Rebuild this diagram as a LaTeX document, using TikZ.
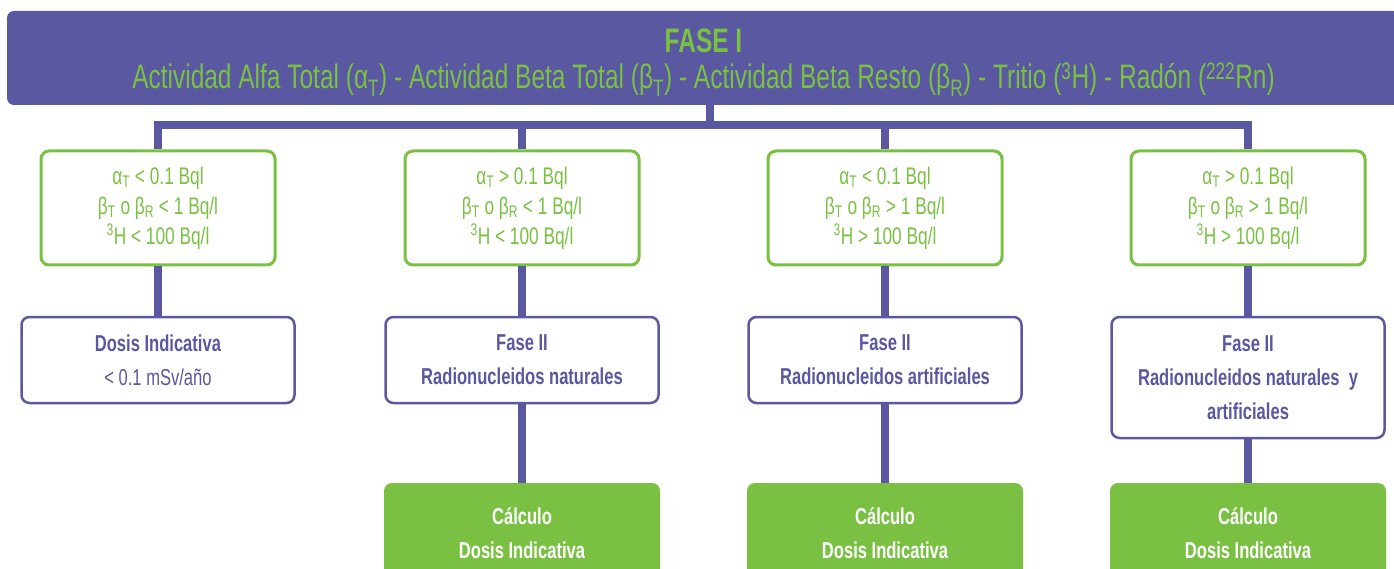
\documentclass[tikz,border=0pt]{standalone}
\usepackage{fontspec}
\setmainfont{Liberation Sans}[FakeStretch=0.72]
\definecolor{pur}{HTML}{5A58A0}
\definecolor{grn}{HTML}{7AC143}
\tikzset{
  link/.style={draw=pur,line width=8pt},
  condbox/.style={draw=grn,line width=3pt,rounded corners=8pt,fill=white,
    minimum width=234pt,minimum height=114pt,text=grn,align=center,
    font=\fontsize{24}{30}\selectfont},
  resbox/.style={draw=pur,line width=2.5pt,rounded corners=8pt,fill=white,
    minimum width=273pt,text=pur,align=center,
    font=\fontsize{23}{34}\selectfont},
  calcbox/.style={fill=grn,rounded corners=8pt,minimum width=276pt,minimum height=100pt,
    text=white,align=center,font=\bfseries\fontsize{23}{34}\selectfont},
}
\begin{document}
\begin{tikzpicture}[x=1pt,y=-1pt]
\clip (0,0) rectangle (1394,569);
\fill[white] (0,0) rectangle (1394,569);
% banner
\node[fill=pur,rounded corners=7pt,minimum width=1393pt,minimum height=94pt,align=center,
  text=grn,inner sep=0pt,font=\fontsize{34}{36}\selectfont] (top) at (703.5,58)
  {\rule{0pt}{33pt}\textbf{FASE I}\\
   Actividad Alfa Total (α\textsubscript{T}) - Actividad Beta Total (β\textsubscript{T}) - Actividad Beta Resto (β\textsubscript{R}) - Tritio (\textsuperscript{3}H) - Radón (\textsuperscript{222}Rn)};
\coordinate (stem) at (710,125);
% condition boxes
\node[condbox] (c1) at (158,208) {α\textsubscript{T} < 0.1 Bql\\β\textsubscript{T} o β\textsubscript{R} < 1 Bq/l\\\textsuperscript{3}H < 100 Bq/l};
\node[condbox] (c2) at (522,208) {α\textsubscript{T} > 0.1 Bql\\β\textsubscript{T} o β\textsubscript{R} < 1 Bq/l\\\textsuperscript{3}H < 100 Bq/l};
\node[condbox] (c3) at (885,208) {α\textsubscript{T} < 0.1 Bql\\β\textsubscript{T} o β\textsubscript{R} > 1 Bq/l\\\textsuperscript{3}H > 100 Bq/l};
\node[condbox] (c4) at (1248,208) {α\textsubscript{T} > 0.1 Bql\\β\textsubscript{T} o β\textsubscript{R} > 1 Bq/l\\\textsuperscript{3}H > 100 Bq/l};
\coordinate (busL) at (c1.north |- stem);
\coordinate (busR) at (c4.north |- stem);
% result boxes
\node[resbox,minimum height=86pt] (r1) at (158,360) {\textbf{Dosis Indicativa}\\< 0.1 mSv/año};
\node[resbox,minimum height=86pt] (r2) at (522,360) {\textbf{Fase II}\\\textbf{Radionucleidos naturales}};
\node[resbox,minimum height=86pt] (r3) at (885,360) {\textbf{Fase II}\\\textbf{Radionucleidos artificiales}};
\node[resbox,minimum height=121pt] (r4) at (1248,377.5) {\textbf{Fase II}\\\textbf{Radionucleidos naturales\ \ y}\\\textbf{artificiales}};
% calc boxes
\node[calcbox] (k2) at (522,533) {Cálculo\\Dosis Indicativa};
\node[calcbox] (k3) at (885,533) {Cálculo\\Dosis Indicativa};
\node[calcbox] (k4) at (1248,533) {Cálculo\\Dosis Indicativa};
% connectors
\draw[link] (top.south -| stem) -- (stem);
\draw[link,line cap=rect] (busL) -- (busR);
\draw[link] (busL) -- (c1.north);
\draw[link] (busL -| c2.north) -- (c2.north);
\draw[link] (busL -| c3.north) -- (c3.north);
\draw[link] (busR) -- (c4.north);
\draw[link] (c1.south) -- (r1.north);
\draw[link] (c2.south) -- (r2.north);
\draw[link] (c3.south) -- (r3.north);
\draw[link] (c4.south) -- (r4.north);
\draw[link] (r2.south) -- (k2.north);
\draw[link] (r3.south) -- (k3.north);
\draw[link] (r4.south) -- (k4.north);
\end{tikzpicture}
\end{document}
